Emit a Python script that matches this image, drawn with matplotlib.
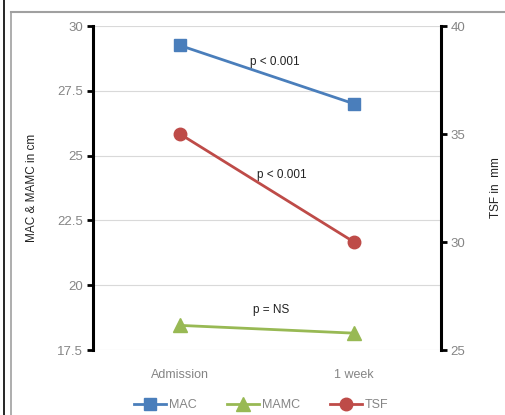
import matplotlib.pyplot as plt
from matplotlib.lines import Line2D

plt.rcParams['font.family'] = ['Liberation Sans', 'DejaVu Sans']

times = ['Admission', '1 week']
mac = [29.25, 27.0]
mamc = [18.45, 18.15]
tsf = [35.0, 30.0]

left_ticks = [17.5, 20, 22.5, 25, 27.5, 30]
right_ticks = [25, 30, 35, 40]

blue = '#4a7ebb'
green = '#98b954'
red = '#be4b48'
grey = '#858585'

fig = plt.figure(figsize=(5.06, 4.15), dpi=100)

# outer frame lines
fig.add_artist(Line2D([0.008, 0.008], [0, 1], color='black', lw=1.2))
fig.add_artist(Line2D([0.022, 0.022], [0, 0.971], color='#a0a0a0', lw=1.2))
fig.add_artist(Line2D([0.022, 1], [0.971, 0.971], color='#a0a0a0', lw=1.5))

ax = fig.add_axes([0.1838, 0.1566, 0.6877, 0.7807])
ax2 = ax.twinx()

x = range(len(times))
ax.plot(x, mac, color=blue, lw=2, marker='s', ms=9, label='MAC')
ax.plot(x, mamc, color=green, lw=2, marker='^', ms=10, label='MAMC')
ax2.plot(x, tsf, color=red, lw=2, marker='o', ms=9, label='TSF')

ax.set_xlim(-0.5, 1.5)
ax.set_ylim(17.5, 30)
ax2.set_ylim(25, 40)
ax.set_yticks(left_ticks)
ax.set_yticklabels([f'{t:g}' for t in left_ticks])
ax2.set_yticks(right_ticks)
ax.set_xticks(list(x))
ax.set_xticklabels(times)

ax.grid(axis='y', color='#d9d9d9', lw=0.8)
ax.set_axisbelow(True)
for a in (ax, ax2):
    for s in ('top', 'bottom'):
        a.spines[s].set_visible(False)
ax.spines['right'].set_visible(False)
ax2.spines['left'].set_visible(False)
ax.spines['left'].set_linewidth(2.2)
ax2.spines['right'].set_linewidth(2.2)

ax.tick_params(axis='y', length=4, width=2, colors='black', labelcolor=grey, labelsize=9.5, pad=3)
ax2.tick_params(axis='y', length=4, width=2, colors='black', labelcolor=grey, labelsize=9.5, pad=3)
ax.tick_params(axis='x', length=0, labelcolor=grey, labelsize=9, pad=14)

ax.set_ylabel('MAC & MAMC in cm', fontsize=8.5, color='#222222', labelpad=14)
ax2.set_ylabel('TSF in  mm', fontsize=8.5, color='#222222', labelpad=18)

ax.text(0.546, 28.6, 'p < 0.001', fontsize=8.5, ha='center', va='center', color='#222222')
ax.text(0.586, 24.25, 'p < 0.001', fontsize=8.5, ha='center', va='center', color='#222222')
ax.text(0.523, 19.05, 'p = NS', fontsize=8.5, ha='center', va='center', color='#222222')

handles = [
    Line2D([], [], color=blue, lw=2, marker='s', ms=9),
    Line2D([], [], color=green, lw=2, marker='^', ms=10),
    Line2D([], [], color=red, lw=2, marker='o', ms=9),
]
fig.legend(handles, ['MAC', 'MAMC', 'TSF'], loc='center', bbox_to_anchor=(0.516, 0.024),
           ncol=3, frameon=False, fontsize=9, handlelength=2.6, handletextpad=0.2,
           columnspacing=2.4, labelcolor=grey)

fig.savefig('out.png', dpi=100)
